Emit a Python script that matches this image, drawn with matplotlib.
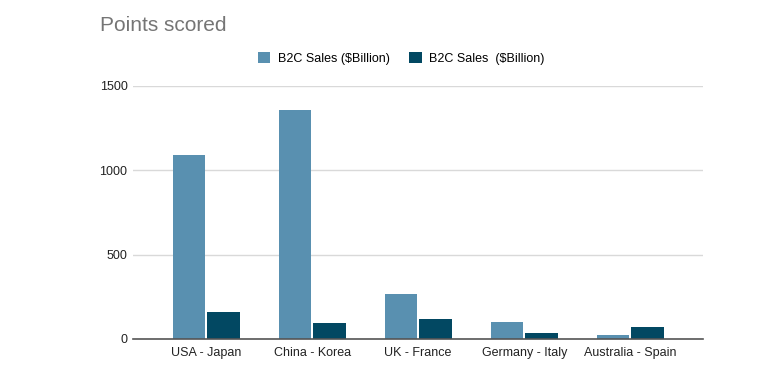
import matplotlib
matplotlib.use("Agg")
import matplotlib.pyplot as plt
import numpy as np

plt.rcParams['font.family'] = ['Liberation Sans', 'DejaVu Sans']

# Data
pairs = ["USA - Japan", "China - Korea", "UK - France", "Germany - Italy", "Australia - Spain"]
sales_a = [1093, 1360, 267, 100, 22]
sales_b = [162, 97, 119, 35, 70]
series_names = ["B2C Sales ($Billion)", "B2C Sales  ($Billion)"]

light = "#5990b0"
dark = "#024862"

fig = plt.figure(figsize=(7.76, 3.77), dpi=100)
ax = fig.add_axes([0.1714, 0.1008, 0.735, 0.6712])

x = np.arange(len(pairs))
w = 0.305
ax.bar(x - w / 2 - 0.01, sales_a, w, color=light, label=series_names[0], zorder=3)
ax.bar(x + w / 2 + 0.01, sales_b, w, color=dark, label=series_names[1], zorder=3)

ax.set_xlim(-0.69, 4.69)
ax.set_ylim(0, 1500)
ax.set_yticks([0, 500, 1000, 1500])
ax.set_xticks(x)
ax.set_xticklabels(pairs)
ax.tick_params(length=0, labelsize=9, colors="#222222")
ax.tick_params(axis="y", pad=4)
ax.tick_params(axis="x", pad=6)
ax.grid(axis="y", color="#d9d9d9", linewidth=1, zorder=0)
for s in ["top", "right", "left"]:
    ax.spines[s].set_visible(False)
ax.spines["bottom"].set_color("#555555")
ax.spines["bottom"].set_linewidth(1.2)
ax.spines["bottom"].set_zorder(4)

fig.text(0.129, 0.932, "Points scored", fontsize=15, color="#757575", ha="left", va="center")
fig.legend(loc="center", bbox_to_anchor=(0.517, 0.845), ncol=2, frameon=False,
           fontsize=9, handlelength=1.0, handleheight=1.0, columnspacing=1.6, handletextpad=0.6)

fig.savefig("out.png", dpi=100)
